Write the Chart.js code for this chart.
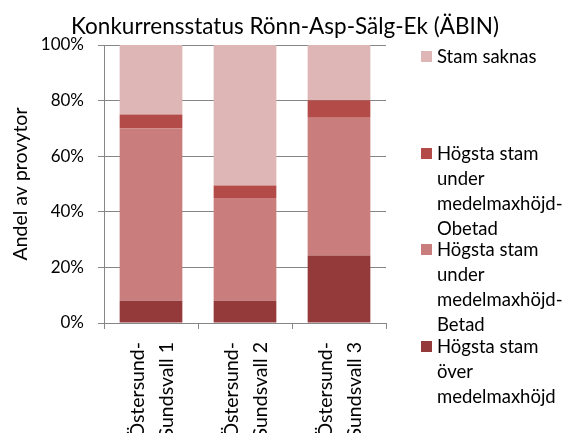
<!DOCTYPE html>
<html>
<head>
<meta charset="utf-8">
<script src="https://cdn.jsdelivr.net/npm/chart.js@4/dist/chart.umd.min.js"></script>
<style>
  html, body { margin: 0; padding: 0; background: #fff; }
  #wrap { position: relative; width: 570px; height: 433px; overflow: hidden; }
  #legend { position: absolute; left: 421px; top: 44px; font-family: Lato, sans-serif; font-size: 18.5px; line-height: 25px; color: #000; }
  .item { position: absolute; left: 0; width: 150px; }
  .box { position: absolute; left: 0; top: 7px; width: 11px; height: 11px; }
  .txt { position: absolute; left: 16px; top: 0; width: 135px; }
</style>
</head>
<body>
<div id="wrap">
  <canvas id="chart"></canvas>
  <div id="legend"></div>
</div>
<script>
const titleText = 'Konkurrensstatus Rönn-Asp-Sälg-Ek (ÄBIN)';
const categories = [['Östersund-', 'Sundsvall 1'], ['Östersund-', 'Sundsvall 2'], ['Östersund-', 'Sundsvall 3']];
const overMedel = [8, 8, 24.3];
const underBetad = [62, 37, 49.5];
const underObetad = [5, 4.5, 6.3];
const stamSaknas = [25, 50.5, 19.9];
const yTicks = [0, 20, 40, 60, 80, 100];

const FONT = 'Lato, sans-serif';
const GRID = '#868686';

const makeSet = (label, data, color) => ({
  label,
  data,
  backgroundColor: color,
  borderWidth: 0,
  barPercentage: 0.667,
  categoryPercentage: 1,
});

// title centred over the whole canvas (legend included), like excel does
const canvasTitle = {
  id: 'canvasTitle',
  afterDraw(chart) {
    const c = chart.ctx;
    c.save();
    c.font = '22.5px ' + FONT;
    c.fillStyle = '#000';
    c.textAlign = 'center';
    c.textBaseline = 'alphabetic';
    c.fillText(titleText, chart.width / 2, 34);
    c.restore();
  },
};

// legend drawn as html so the long labels can wrap like the original
const htmlLegend = {
  id: 'htmlLegend',
  afterUpdate(chart) {
    const box = document.getElementById('legend');
    box.innerHTML = '';
    const sets = chart.data.datasets.slice().reverse();
    sets.forEach((ds, i) => {
      const item = document.createElement('div');
      item.className = 'item';
      item.style.top = (i * 96.7) + 'px';
      const sw = document.createElement('span');
      sw.className = 'box';
      sw.style.background = ds.backgroundColor;
      const txt = document.createElement('span');
      txt.className = 'txt';
      txt.textContent = ds.label;
      item.appendChild(sw);
      item.appendChild(txt);
      box.appendChild(item);
    });
  },
};

const ctx = document.getElementById('chart').getContext('2d');
new Chart(ctx, {
  type: 'bar',
  data: {
    labels: categories,
    datasets: [
      makeSet('Högsta stam över medelmaxhöjd', overMedel, '#953a3a'),
      makeSet('Högsta stam under medelmaxhöjd-Betad', underBetad, '#c97d7c'),
      makeSet('Högsta stam under medelmaxhöjd-Obetad', underObetad, '#b34b48'),
      makeSet('Stam saknas', stamSaknas, '#deb6b5'),
    ],
  },
  options: {
    responsive: true,
    maintainAspectRatio: false,
    animation: false,
    layout: { padding: { left: 0, right: 184, top: 45, bottom: 0 } },
    plugins: {
      legend: { display: false },
      tooltip: { enabled: false },
      title: { display: false },
    },
    scales: {
      x: {
        stacked: true,
        afterFit: s => { s.height = 110; },
        border: { color: GRID, width: 1 },
        grid: { drawOnChartArea: false, drawTicks: true, tickLength: 6, color: GRID, offset: true },
        ticks: {
          color: '#000',
          font: { family: FONT, size: 19.5, lineHeight: 1.45 },
          minRotation: 90,
          maxRotation: 90,
          padding: 13,
          labelOffset: -13,
        },
      },
      y: {
        stacked: true,
        min: 0,
        max: 100,
        afterFit: s => { s.width = 104; },
        afterBuildTicks: s => { s.ticks = yTicks.map(v => ({ value: v })); },
        border: { color: GRID, width: 1 },
        grid: { color: GRID, tickLength: 6 },
        ticks: {
          color: '#000',
          font: { family: FONT, size: 17 },
          padding: 14,
          callback: v => v + '%',
        },
        title: {
          display: true,
          text: 'Andel av provytor',
          color: '#000',
          font: { family: FONT, size: 19.5 },
          padding: { top: 9, bottom: 4 },
        },
      },
    },
  },
  plugins: [htmlLegend, canvasTitle],
});
</script>
</body>
</html>
